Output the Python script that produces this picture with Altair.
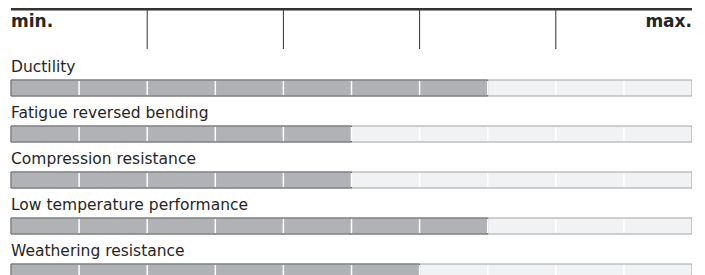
import altair as alt
import pandas as pd

categories = ["Ductility", "Fatigue reversed bending", "Compression resistance",
              "Low temperature performance", "Weathering resistance"]
values = [7, 5, 5, 7, 6]
max_value = 10
header_marks = [2, 4, 6, 8]
end_labels = ["min.", "max."]

rows = pd.DataFrame({"cat": categories, "value": values, "start": 0, "end": max_value})
seps = pd.DataFrame([{"cat": c, "pos": p} for c in categories for p in range(1, max_value)])
hdr = pd.DataFrame({"pos": header_marks})
ends = pd.DataFrame({"label": end_labels, "pos": [0, max_value],
                     "align": ["left", "right"]})

W, H = 681, 267
xs = alt.Scale(domain=[0, max_value], range=[0, W], nice=False, zero=False)
ys = alt.Scale(type="point", domain=categories, range=[80, 264], padding=0)
FONT = "DejaVu Sans"

bg = alt.Chart(rows).mark_bar(size=16, fill="#f1f2f4", stroke="#a2a2a4", strokeWidth=1).encode(
    x=alt.X("start:Q", scale=xs, axis=None), x2="end:Q",
    y=alt.Y("cat:N", scale=ys, axis=None))

filled = alt.Chart(rows).mark_bar(size=16, fill="#b1b2b5", stroke="#6a6a6c", strokeWidth=1).encode(
    x=alt.X("start:Q", scale=xs, axis=None), x2="value:Q",
    y=alt.Y("cat:N", scale=ys, axis=None))

sep = alt.Chart(seps).mark_tick(orient="vertical", size=14, thickness=1.5, color="#ffffff", opacity=1).encode(
    x=alt.X("pos:Q", scale=xs, axis=None),
    y=alt.Y("cat:N", scale=ys, axis=None))

labels = alt.Chart(rows).mark_text(align="left", baseline="alphabetic", dy=-16, fontSize=15.5,
                                   font=FONT, color="#262626").encode(
    x=alt.X("start:Q", scale=xs, axis=None),
    y=alt.Y("cat:N", scale=ys, axis=None),
    text="cat:N")

top_line = alt.Chart(rows.head(1)).mark_rule(color="#333333", strokeWidth=3).encode(
    x=alt.X("start:Q", scale=xs, axis=None), x2="end:Q", y=alt.value(1))

vlines = alt.Chart(hdr).mark_rule(color="#333333", strokeWidth=1).encode(
    x=alt.X("pos:Q", scale=xs, axis=None), y=alt.value(0), y2=alt.value(41))

end_left = alt.Chart(ends.head(1)).mark_text(align="left", baseline="alphabetic", fontSize=17,
                                               fontWeight="bold", font=FONT, color="#262626").encode(
    x=alt.X("pos:Q", scale=xs, axis=None), y=alt.value(19), text="label:N")
end_right = alt.Chart(ends.tail(1)).mark_text(align="right", baseline="alphabetic", fontSize=17,
                                                fontWeight="bold", font=FONT, color="#262626").encode(
    x=alt.X("pos:Q", scale=xs, axis=None), y=alt.value(19), text="label:N")

chart = alt.layer(bg, filled, sep, labels, top_line, vlines, end_left, end_right).properties(
    width=W, height=H,
    autosize=alt.AutoSizeParams(type="none"),
    padding={"left": 3, "top": 0, "right": 0, "bottom": 0},
).configure_view(stroke=None)

chart.save("out.html", embed_options={"renderer": "svg", "actions": False})
